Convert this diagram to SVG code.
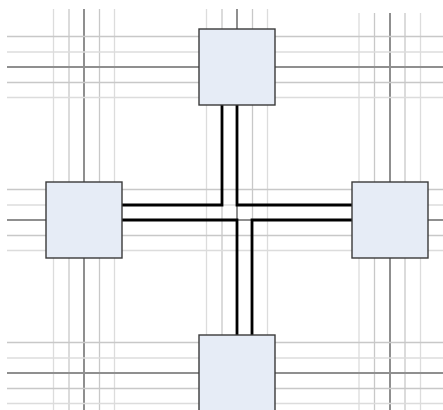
<svg xmlns="http://www.w3.org/2000/svg" width="443" height="410" viewBox="0 0 443 410">
  <style>
    .la { stroke: #c8c8c8; stroke-width: 1.3; fill: none; }
    .lb { stroke: #dcdcdc; stroke-width: 1.3; fill: none; }
    .ld { stroke: #8f8f8f; stroke-width: 2; fill: none; }
    .box { fill: #e6ecf6; stroke: #3a3a3a; stroke-width: 1.4; }
    .conn { stroke: #000; stroke-width: 2.8; fill: none; stroke-linejoin: miter; }
  </style>
  <rect width="443" height="410" fill="#fff"/>
  <g id="grid">
    <line class="lb" x1="53.5" y1="9" x2="53.5" y2="410"/>
    <line class="la" x1="69" y1="9" x2="69" y2="410"/>
    <line class="ld" x1="84" y1="9" x2="84" y2="410"/>
    <line class="la" x1="99.5" y1="9" x2="99.5" y2="410"/>
    <line class="lb" x1="114.5" y1="9" x2="114.5" y2="410"/>
    <line class="lb" x1="206.5" y1="9" x2="206.5" y2="410"/>
    <line class="la" x1="222" y1="9" x2="222" y2="410"/>
    <line class="ld" x1="237" y1="9" x2="237" y2="410"/>
    <line class="la" x1="252.5" y1="9" x2="252.5" y2="410"/>
    <line class="lb" x1="267.5" y1="9" x2="267.5" y2="410"/>
    <line class="lb" x1="359" y1="13" x2="359" y2="410"/>
    <line class="la" x1="374.5" y1="13" x2="374.5" y2="410"/>
    <line class="ld" x1="390" y1="13" x2="390" y2="410"/>
    <line class="la" x1="405" y1="13" x2="405" y2="410"/>
    <line class="lb" x1="420.5" y1="13" x2="420.5" y2="410"/>
    <line class="la" x1="7" y1="36.5" x2="443" y2="36.5"/>
    <line class="lb" x1="7" y1="52" x2="443" y2="52"/>
    <line class="ld" x1="7" y1="67" x2="443" y2="67"/>
    <line class="la" x1="7" y1="82.5" x2="443" y2="82.5"/>
    <line class="lb" x1="7" y1="97.5" x2="443" y2="97.5"/>
    <line class="la" x1="7" y1="189.5" x2="443" y2="189.5"/>
    <line class="lb" x1="7" y1="205" x2="443" y2="205"/>
    <line class="ld" x1="7" y1="220" x2="443" y2="220"/>
    <line class="la" x1="7" y1="235.5" x2="443" y2="235.5"/>
    <line class="lb" x1="7" y1="250.5" x2="443" y2="250.5"/>
    <line class="la" x1="7" y1="342.5" x2="443" y2="342.5"/>
    <line class="lb" x1="7" y1="358" x2="443" y2="358"/>
    <line class="ld" x1="7" y1="373" x2="443" y2="373"/>
    <line class="la" x1="7" y1="388.5" x2="443" y2="388.5"/>
    <line class="lb" x1="7" y1="403.5" x2="443" y2="403.5"/>
  </g>
  <g id="connectors">
    <path class="conn" d="M222,105 V205 H122"/>
    <path class="conn" d="M237,105 V205 H352"/>
    <path class="conn" d="M122,220 H237 V335"/>
    <path class="conn" d="M352,220 H252 V335"/>
  </g>
  <g id="node-top"><rect class="box" x="199" y="29" width="76" height="76"/></g>
  <g id="node-left"><rect class="box" x="46" y="182" width="76" height="76"/></g>
  <g id="node-right"><rect class="box" x="352" y="182" width="76" height="76"/></g>
  <g id="node-bottom"><rect class="box" x="199" y="335" width="76" height="76"/></g>
</svg>
